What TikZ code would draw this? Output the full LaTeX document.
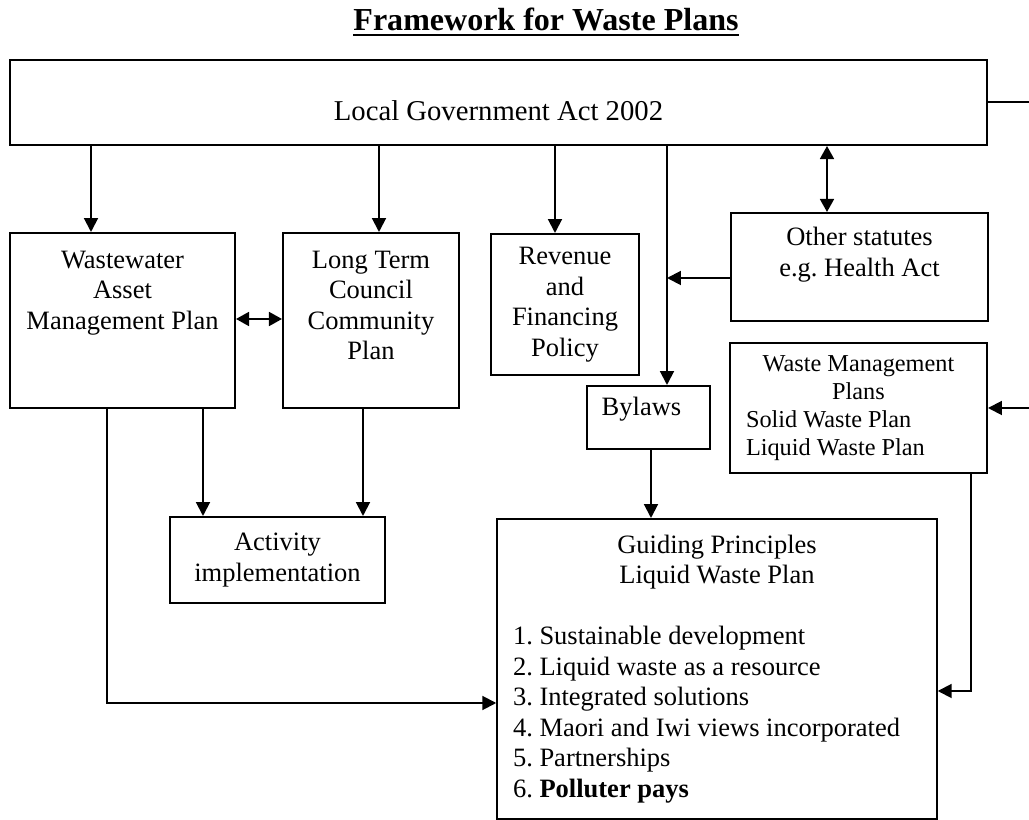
\documentclass[tikz,border=0pt]{standalone}
\usepackage{fontspec}
\setmainfont{Liberation Serif}
\usetikzlibrary{arrows.meta,positioning,calc}
\newlength{\pu}
\setlength{\pu}{0.4528pt}
\frenchspacing

\begin{document}
\begin{tikzpicture}[x=0.4528pt, y=-0.4528pt,
    box/.style={draw, line width=0.9pt, rectangle, inner sep=0pt, align=center,
        font=\fontsize{12}{13.8}\selectfont},
    listbox/.style={box, align=left},
    arr/.style={line width=0.9pt, -{Triangle[length=6.3pt, width=6.3pt]}},
    dbl/.style={line width=0.9pt, {Triangle[length=5.9pt, width=6.3pt]}-{Triangle[length=5.9pt, width=6.3pt]}}]
    \useasboundingbox (0,0) rectangle (1029,820);

    % Title
    \node[anchor=base, inner sep=0pt, font=\fontsize{14.5}{17}\selectfont\bfseries] (title) at (546,31) {Framework for Waste Plans};
    \draw[line width=0.9pt] ([yshift=-4\pu]title.base west) -- ([yshift=-4\pu]title.base east);

    % Boxes
    \node[box, minimum width=977\pu, minimum height=85\pu, font=\fontsize{13}{15}\selectfont,
        text height=37\pu, text depth=0pt] (lga) at (498.5,102.5) {Local Government Act 2002};
    \node[box, minimum width=225\pu, minimum height=175\pu] (wamp) at (122.5,320.5) {Wastewater\\ Asset\\ Management Plan\\ ~\\ ~};
    \node[box, minimum width=176\pu, minimum height=175\pu] (ltccp) at (371,320.5) {Long Term\\ Council\\ Community\\ Plan\\ ~};
    \node[box, minimum width=148\pu, minimum height=141\pu] (revenue) at (565,304.5) {Revenue\\ and\\ Financing\\ Policy};
    \node[box, minimum width=257\pu, minimum height=108\pu] (other) at (859.5,267) {Other statutes\\ e.g. Health Act\\ ~};
    \node[box, minimum width=123\pu, minimum height=63\pu] (bylaws) at (648.5,417.5) {Bylaws\hspace*{14\pu}\\[-4pt]~};
    \node[listbox, minimum width=257\pu, minimum height=130\pu, text width=225\pu, inner xsep=16\pu,
        font=\fontsize{11}{12.6}\selectfont] (wmp) at (858.5,408)
        {\spaceskip=0pt\xspaceskip=0pt\centering Waste Management\\ Plans\par\raggedright Solid Waste Plan\\ Liquid Waste Plan};
    \node[box, minimum width=215\pu, minimum height=86\pu] (activity) at (277.5,560) {Activity\\ implementation};
    \node[listbox, minimum width=439.5\pu, minimum height=300\pu, text width=408\pu, inner xsep=15.75\pu] (guide) at (717,669)
        {\spaceskip=0pt\xspaceskip=0pt\centering Guiding Principles\\ Liquid Waste Plan\par\vspace{\baselineskip}\raggedright
         1. Sustainable development\\ 2. Liquid waste as a resource\\ 3. Integrated solutions\\
         4. Maori and Iwi views incorporated\\ 5. Partnerships\\ 6. \textbf{Polluter pays}};

    % Connectors
    \coordinate (bytop) at (bylaws.north -| 667,0);
    \draw[arr] (lga.south -| 91,0) -- (wamp.north -| 91,0);
    \draw[arr] (lga.south -| 379,0) -- (ltccp.north -| 379,0);
    \draw[arr] (lga.south -| 555,0) -- (revenue.north -| 555,0);
    \draw[arr] (lga.south -| bytop) -- (bytop);
    \draw[dbl] (lga.south -| 827,0) -- (other.north -| 827,0);
    \draw[arr] (other.west |- 0,278) -- (bytop |- 0,278);
    \draw[dbl] (wamp.east |- 0,319) -- (ltccp.west |- 0,319);
    \draw[arr] (wamp.south -| 203,0) -- (activity.north -| 203,0);
    \draw[arr] (ltccp.south -| 363,0) -- (activity.north -| 363,0);
    \draw[arr] (wamp.south -| 107,0) |- (guide.west |- 0,703);
    \draw[arr] (bylaws.south -| 651,0) -- (guide.north -| 651,0);
    \draw[arr] (wmp.south -| 971,0) |- (guide.east |- 0,691);
    \draw[arr] (lga.east) -- ++(50,0) |- (wmp.east);
\end{tikzpicture}
\end{document}
